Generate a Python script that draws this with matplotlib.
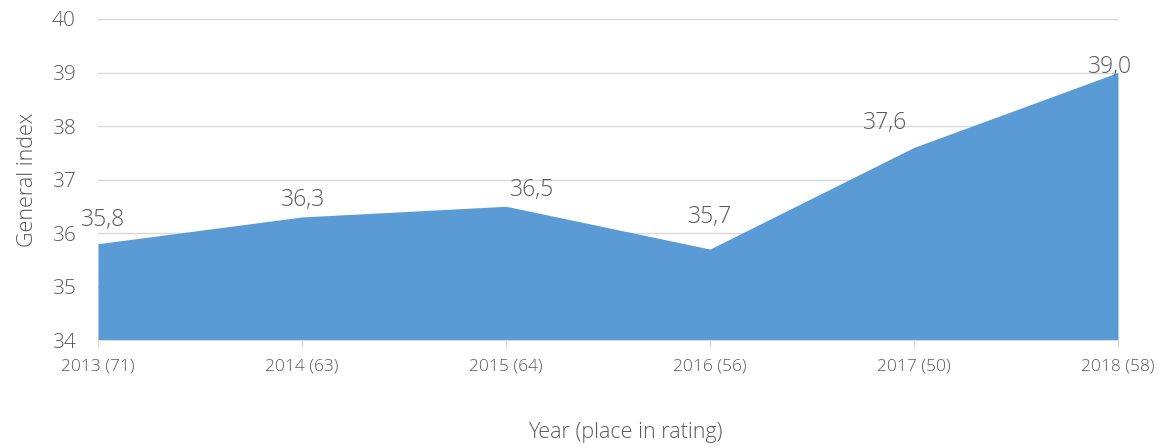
import matplotlib.pyplot as plt

# data
years = ["2013 (71)", "2014 (63)", "2015 (64)", "2016 (56)", "2017 (50)", "2018 (58)"]
index_values = [35.8, 36.3, 36.5, 35.7, 37.6, 39.0]

# label offsets in pixels (dx, dy)
label_offsets = [(5, 24), (1, 17), (26, 16), (0, 32), (-29, 24), (-8, 6)]

plt.rcParams['font.family'] = ['Open Sans', 'DejaVu Sans']
plt.rcParams['font.weight'] = 'light'
txt = "#595959"

fig = plt.figure(figsize=(11.66, 4.48), dpi=100)
ax = fig.add_axes([0.084, 0.241, 0.8748, 0.7166])

x = list(range(len(years)))
ax.fill_between(x, index_values, 34, color="#5B9BD5", linewidth=0, zorder=3)

for i, v in enumerate(index_values):
    dx, dy = label_offsets[i]
    ax.annotate(f"{v:.1f}".replace(".", ","), xy=(i, v), xytext=(dx, dy),
                textcoords="offset pixels", ha="center", va="center",
                fontsize=16.5, color=txt, zorder=5)

ax.set_xlim(0, len(years) - 1)
ax.set_ylim(34, 40)
ax.set_yticks(range(34, 41))
ax.set_xticks(x)
ax.set_xticklabels(years)
ax.grid(axis="y", color="#D9D9D9", linewidth=1, zorder=0)
ax.set_axisbelow(True)

for s in ["top", "right", "left"]:
    ax.spines[s].set_visible(False)
ax.spines["bottom"].set_color("#D9D9D9")
ax.spines["bottom"].set_zorder(4)

ax.tick_params(axis="y", length=0, labelsize=15, labelcolor=txt, pad=16)
ax.tick_params(axis="x", length=5, color="#D9D9D9", labelsize=12.5, labelcolor=txt, pad=8)

ax.set_xlabel("Year (place in rating)", fontsize=15.5, color=txt, fontweight="light")
ax.xaxis.set_label_coords(0.517, -0.255)
ax.set_ylabel("General index", fontsize=15.5, color=txt, fontweight="light", labelpad=10)

plt.savefig("out.png", dpi=100)
